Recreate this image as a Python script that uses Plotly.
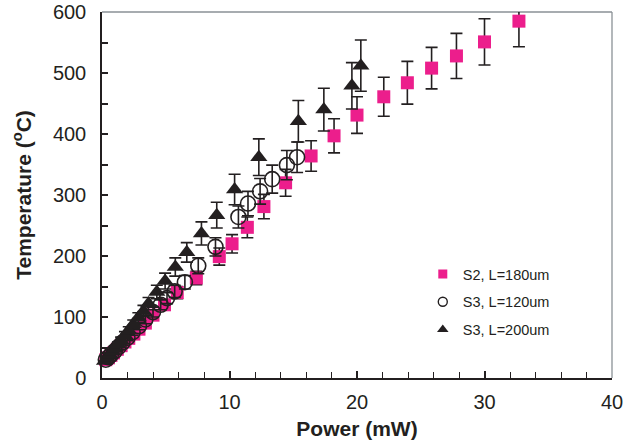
import plotly.graph_objects as go

# ---- data ----
s2_power = [0.3, 0.5, 0.7, 0.9, 1.2, 1.5, 1.8, 2.1, 2.5, 2.9, 3.4, 4.0, 4.9, 5.9, 7.4, 9.2,
            10.2, 11.4, 12.7, 14.4, 16.4, 18.2, 20.0, 22.1, 23.95, 25.85, 27.8, 30.0, 32.7]
s2_temp = [30, 33, 37, 41, 47, 53, 59, 65, 72, 80, 90, 103, 120, 140, 164, 199,
           220, 247, 281, 320, 364, 397, 431, 461, 484, 508, 528, 551, 585]
s2_err = [2, 2, 3, 3, 3, 4, 4, 5, 5, 6, 6, 7, 8, 10, 11, 14,
          15, 17, 20, 22, 25, 28, 30, 32, 35, 34, 37, 38, 42]

s3a_power = [0.3, 0.5, 0.7, 1.0, 1.3, 1.6, 2.0, 2.4, 2.9, 3.4, 4.0, 4.6, 5.1, 5.7, 6.5,
             7.55, 8.9, 10.7, 11.45, 12.4, 13.35, 14.5, 15.3]
s3a_temp = [30, 34, 38, 44, 51, 58, 66, 75, 85, 96, 108, 120, 131, 142, 157,
            184, 215, 264, 286, 306, 326, 349, 362]
s3a_err = [2, 2, 3, 3, 4, 4, 5, 5, 6, 7, 8, 8, 9, 10, 11,
           13, 15, 18, 20, 21, 23, 24, 25]

s3b_power = [0.2, 0.4, 0.6, 0.8, 1.0, 1.25, 1.5, 1.8, 2.1, 2.45, 2.85, 3.25, 3.65, 4.3,
             4.95, 5.75, 6.65, 7.8, 9.0, 10.4, 12.3, 15.4, 17.4, 19.6, 20.3]
s3b_temp = [28, 33, 38, 43, 48, 55, 62, 70, 78, 88, 99, 110, 122, 141,
            159, 182, 206, 237, 267, 309, 362, 421, 440, 479, 512]
s3b_err = [2, 3, 3, 3, 4, 4, 5, 6, 6, 7, 8, 9, 10, 11,
           13, 15, 16, 19, 21, 25, 30, 34, 35, 38, 42]

names = ["S2, L=180um", "S3, L=120um", "S3, L=200um"]
x_ticks = [0, 10, 20, 30, 40]
y_ticks = [0, 100, 200, 300, 400, 500, 600]

PINK = "#EC1E8C"
BLK = "#231F20"
FONT = "Liberation Sans, Arial, Helvetica, sans-serif"

fig = go.Figure()

def err(vals):
    return dict(type="data", array=vals, visible=True, color=BLK, thickness=1.6, width=6)

fig.add_trace(go.Scatter(
    x=s2_power, y=s2_temp, mode="markers", error_y=err(s2_err), showlegend=False,
    cliponaxis=False,
    marker=dict(symbol="square", size=13, color=PINK, line=dict(width=0))))
fig.add_trace(go.Scatter(
    x=s3a_power, y=s3a_temp, mode="markers", error_y=err(s3a_err), showlegend=False,
    cliponaxis=False,
    marker=dict(symbol="circle-open", size=15, color=BLK, line=dict(width=1.6, color=BLK))))
fig.add_trace(go.Scatter(
    x=s3b_power, y=s3b_temp, mode="markers", error_y=err(s3b_err), showlegend=False,
    cliponaxis=False,
    marker=dict(symbol="triangle-up", size=15, color=BLK, line=dict(width=0))))

# legend-only entries (smaller symbols as in the reference)
legend_styles = [
    dict(symbol="square", size=9, color=PINK),
    dict(symbol="circle-open", size=9, color=BLK, line=dict(width=1.4, color=BLK)),
    dict(symbol="triangle-up", size=10, color=BLK),
]
for i, (nm, mk) in enumerate(zip(names, legend_styles)):
    fig.add_trace(go.Scatter(x=[None], y=[None], mode="markers", name=nm,
                             legendgroup=f"g{i}", marker=mk))

fig.update_layout(
    width=636, height=448,
    margin=dict(l=102, r=24, t=12, b=70, autoexpand=False),
    paper_bgcolor="white", plot_bgcolor="white",
    font=dict(family=FONT, color=BLK, size=20),
    legend=dict(x=0.629, y=0.328, xanchor="left", yanchor="top",
                font=dict(size=14.5, color=BLK, family=FONT),
                traceorder="grouped", tracegroupgap=6,
                itemwidth=30, bgcolor="rgba(0,0,0,0)"),
    xaxis=dict(range=[0, 40], tickmode="array", tickvals=x_ticks,
               ticktext=[str(v) for v in x_ticks], automargin=False,
               ticks="inside", ticklen=7, tickwidth=1.5, tickcolor=BLK,
               minor=dict(dtick=2, ticks="inside", ticklen=6, tickwidth=1.2, tickcolor=BLK),
               showline=True, linecolor=BLK, linewidth=1.5, showgrid=False, zeroline=False,
               tickfont=dict(size=20, color=BLK), ticklabelstandoff=5,
               title=dict(text="<b>Power (mW)</b>", font=dict(size=21, color=BLK), standoff=10)),
    yaxis=dict(range=[0, 600], tickmode="array", tickvals=y_ticks,
               ticktext=[str(v) for v in y_ticks], automargin=False,
               ticks="inside", ticklen=6, tickwidth=1.5, tickcolor=BLK,
               minor=dict(dtick=50, ticks="inside", ticklen=6, tickwidth=1.5, tickcolor=BLK),
               showline=True, linecolor=BLK, linewidth=1.5, showgrid=False, zeroline=False,
               tickfont=dict(size=20, color=BLK), ticklabelstandoff=10,
               title=dict(text="<b>Temperature (<sup>o</sup>C)</b>", font=dict(size=21, color=BLK),
                          standoff=16)),
    shapes=[
        dict(type="line", xref="paper", yref="paper", x0=0, x1=1, y0=1, y1=1,
             line=dict(color="#8A9196", width=1.3), layer="below"),
        dict(type="line", xref="paper", yref="paper", x0=1, x1=1, y0=0, y1=1,
             line=dict(color="#8A9196", width=1.3), layer="below"),
    ],
)

fig.write_html("out.html", config={"displayModeBar": False},
               post_script="document.body.style.margin='0';")
